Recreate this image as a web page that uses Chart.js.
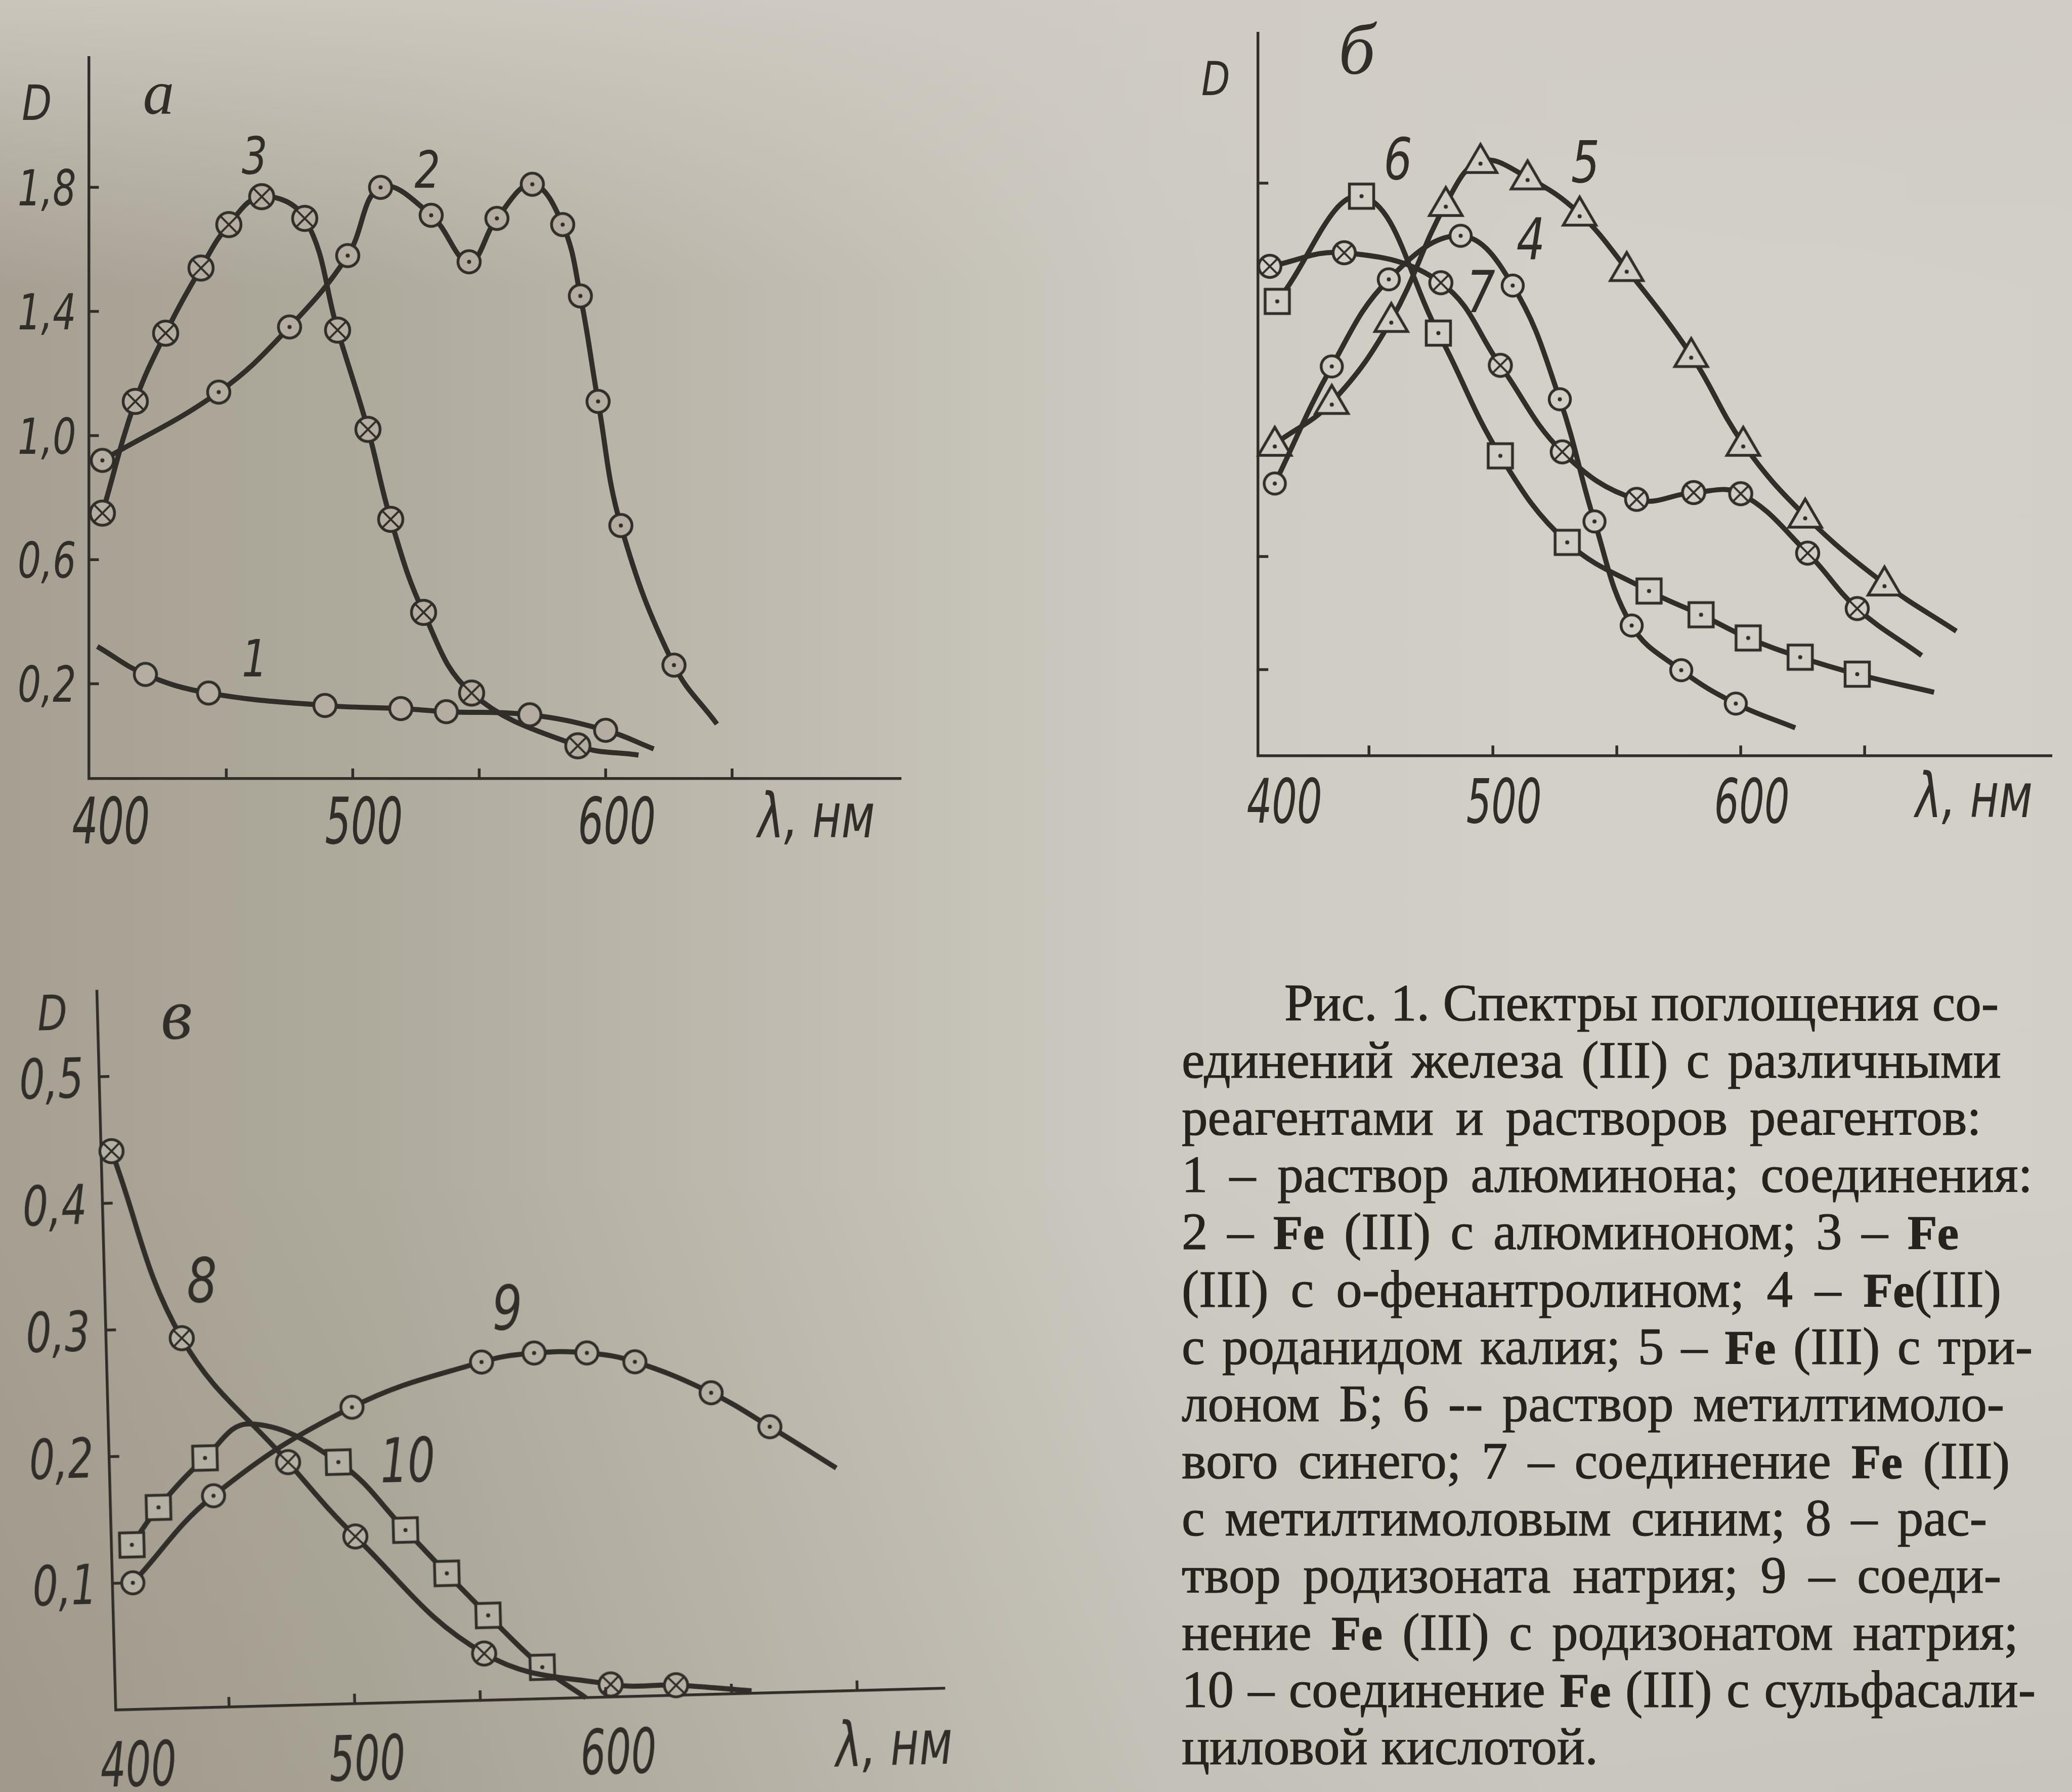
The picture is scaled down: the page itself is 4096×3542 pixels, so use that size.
<!DOCTYPE html>
<html lang="ru">
<head>
<meta charset="utf-8">
<title>Рис. 1. Спектры поглощения</title>
<script src="https://cdn.jsdelivr.net/npm/chart.js@4.4.1/dist/chart.umd.min.js"></script>
<style>
  html, body { margin: 0; width: 4096px; height: 3542px; overflow: hidden; }
  body {
    position: relative;
    background:
      linear-gradient(180deg, rgba(208,204,195,0.85) 0%, rgba(208,204,195,0) 16%),
      linear-gradient(180deg, rgba(0,0,0,0) 65%, rgba(70,62,45,0.07) 100%),
      linear-gradient(90deg, #a5a092 0%, #aeaa9c 18%, #bfbbb0 38%, #cdcac1 56%, #d3d0c8 76%, #d2cfc7 100%);
  }
  canvas { position: absolute; }
  #chartA { left: 0; top: 0; }
  #chartB { left: 2300px; top: 0; }
  #chartC { left: 0; top: 1800px; transform-origin: 228.9px 1580px; transform: rotate(-1.5deg); }
  .ln {
    position: absolute; display: flex; justify-content: space-between; column-gap: 0.22em;
    white-space: nowrap;
    font: 103px "Liberation Serif", serif; line-height: 113px; color: #26231f;
    -webkit-text-stroke: 1.2px #26231f;
  }
  .ln.last { justify-content: flex-start; column-gap: 0.26em; }
  .ln b { font-size: 0.93em; }
</style>
</head>
<body>
<canvas id="chartA" width="1900" height="1700"></canvas>
<canvas id="chartB" width="1796" height="1700"></canvas>
<canvas id="chartC" width="2000" height="1742"></canvas>
<div id="caption"></div>
<script>
// ---- данные ----
// а: 1 - алюминон, 2 - Fe(III) с алюминоном, 3 - Fe(III) с о-фенантролином
const aX1 = [399, 418, 443, 489, 519, 537, 570, 600, 619];
const aY1 = [0.32, 0.23, 0.17, 0.13, 0.12, 0.11, 0.10, 0.05, -0.01];
const aBare1 = [0, 8];
const aX2 = [401, 447, 475, 498, 511, 531, 546, 557, 571, 583, 590, 597, 606, 627, 644];
const aY2 = [0.92, 1.14, 1.35, 1.58, 1.80, 1.71, 1.56, 1.70, 1.81, 1.68, 1.45, 1.11, 0.71, 0.26, 0.07];
const aBare2 = [14];
const aX3 = [401, 414, 426, 440, 451, 464, 481, 494, 506, 515, 528, 547, 589, 613];
const aY3 = [0.75, 1.11, 1.33, 1.54, 1.68, 1.77, 1.70, 1.34, 1.02, 0.73, 0.43, 0.17, 0.00, -0.03];
const aBare3 = [13];

// б: 4 - роданид, 5 - трилон Б, 6 - метилтимоловый синий, 7 - Fe(III) с МТС
const bX4 = [412, 435, 458, 487, 508, 527, 541, 556, 576, 598, 622];
const bY4 = [0.529, 0.736, 0.890, 0.967, 0.879, 0.678, 0.462, 0.278, 0.199, 0.140, 0.097];
const bBare4 = [10];
const bX5 = [412, 435, 459, 481, 495, 514, 535, 554, 580, 601, 626, 658, 687];
const bY5 = [0.599, 0.673, 0.818, 1.023, 1.099, 1.070, 1.006, 0.908, 0.756, 0.599, 0.472, 0.352, 0.268];
const bBare5 = [12];
const bX6 = [413, 447, 478, 503, 530, 563, 584, 603, 624, 647, 678];
const bY6 = [0.851, 1.037, 0.795, 0.578, 0.425, 0.339, 0.297, 0.256, 0.222, 0.192, 0.160];
const bBare6 = [10];
const bX7 = [410, 440, 479, 503, 528, 558, 581, 600, 627, 647, 673];
const bY7 = [0.913, 0.937, 0.884, 0.738, 0.585, 0.501, 0.513, 0.511, 0.406, 0.308, 0.225];
const bBare7 = [10];

// в: 8 - родизонат, 9 - Fe(III) с родизонатом, 10 - Fe(III) с сульфосалициловой
const cX8 = [409, 435, 476, 502, 552, 602, 628, 658];
const cY8 = [0.441, 0.292, 0.192, 0.132, 0.037, 0.010, 0.008, 0.002];
const cBare8 = [7];
const cX9 = [413, 446, 502, 554, 575, 596, 615, 645, 668, 694];
const cY9 = [0.100, 0.167, 0.234, 0.267, 0.273, 0.272, 0.264, 0.238, 0.210, 0.176];
const cBare9 = [9];
const cX10 = [413, 424, 443, 461, 496, 522, 538, 554, 575, 592];
const cY10 = [0.130, 0.159, 0.197, 0.223, 0.191, 0.136, 0.101, 0.067, 0.025, 0.000];
const cBare10 = [3, 9];

// деления и подписи осей
const aXTicks = [450, 500, 550, 600, 650];
const aYTicks = [0.2, 0.6, 1.0, 1.4, 1.8];
const aYLabels = ['0,2', '0,6', '1,0', '1,4', '1,8'];
const bXTicks = [450, 500, 550, 600, 650];
const bYTicks = [0.2, 0.4, 1.06];
const cXTicks = [450, 500, 550, 600, 650, 700];
const cYTicks = [0.1, 0.2, 0.3, 0.4, 0.5];
const cYLabels = ['0,1', '0,2', '0,3', '0,4', '0,5'];
const xLabelVals = [400, 500, 600];
const xLabels = ['400', '500', '600'];

const captionLines = [
  'Рис. 1. Спектры поглощения со-',
  'единений железа (III) с различными',
  'реагентами и растворов реагентов:',
  '1 – раствор алюминона; соединения:',
  '2 – Fe (III) с алюминоном; 3 – Fe',
  '(III) с о-фенантролином; 4 – Fe(III)',
  'с роданидом калия; 5 – Fe (III) с три-',
  'лоном Б; 6 -- раствор метилтимоло-',
  'вого синего; 7 – соединение Fe (III)',
  'с метилтимоловым синим; 8 – рас-',
  'твор родизоната натрия; 9 – соеди-',
  'нение Fe (III) с родизонатом натрия;',
  '10 – соединение Fe (III) с сульфасали-',
  'циловой кислотой.'
];

const INK = '#312d29';
const SANS = '"DejaVu Sans", sans-serif';
const SERIF = '"Liberation Serif", serif';
const LINE_W = 10, AXIS_W = 5.5, TICK = 20;

// значки точек
function marker(kind, size, fill) {
  const lw = 5.5;
  const c = document.createElement('canvas');
  const s = Math.ceil(size + lw * 2 + 2);
  c.width = c.height = s;
  const g = c.getContext('2d');
  const m = s / 2, r = size / 2;
  g.lineWidth = lw;
  g.strokeStyle = INK;
  g.fillStyle = fill;
  g.beginPath();
  if (kind === 'tri') {
    g.moveTo(m, m - r * 1.0);
    g.lineTo(m + r * 0.98, m + r * 0.68);
    g.lineTo(m - r * 0.98, m + r * 0.68);
    g.closePath();
  } else if (kind === 'sq') {
    g.rect(m - r, m - r, 2 * r, 2 * r);
  } else {
    g.arc(m, m, r, 0, Math.PI * 2);
  }
  g.fill();
  g.stroke();
  if (kind === 'cross') {
    const k = r * 0.68;
    g.lineWidth = 4;
    g.beginPath();
    g.moveTo(m - k, m - k); g.lineTo(m + k, m + k);
    g.moveTo(m + k, m - k); g.lineTo(m - k, m + k);
    g.stroke();
  }
  if (kind === 'dot' || kind === 'tri' || kind === 'sq') {
    g.fillStyle = INK;
    g.beginPath();
    g.arc(m, m + (kind === 'tri' ? r * 0.15 : 0), 4, 0, Math.PI * 2);
    g.fill();
  }
  return c;
}

function series(xs, ys, bare, style, r) {
  return {
    data: xs.map((x, i) => ({ x: x, y: ys[i] })),
    borderColor: INK,
    borderWidth: LINE_W,
    tension: 0.4,
    fill: false,
    clip: false,
    pointStyle: style,
    pointRadius: xs.map((_, i) => bare.includes(i) ? 0 : r),
  };
}

function label(ctx, t, x, y, size, align, sx, face, base) {
  ctx.save();
  ctx.translate(x, y);
  ctx.scale(sx, 1);
  ctx.font = 'italic ' + size + 'px ' + face;
  ctx.textAlign = align;
  ctx.textBaseline = 'alphabetic';
  ctx.fillStyle = INK;
  ctx.fillText(t, 0, size * base);
  ctx.restore();
}

// деления внутрь, подписи и номера кривых
const inkPlugin = {
  id: 'ink',
  afterDraw(chart, args, o) {
    const { ctx, chartArea: a } = chart;
    const sx = chart.scales.x, sy = chart.scales.y;
    ctx.save();
    ctx.strokeStyle = INK;
    ctx.lineWidth = AXIS_W;
    ctx.beginPath();
    o.xTicks.forEach(v => {
      const p = sx.getPixelForValue(v);
      ctx.moveTo(p, a.bottom); ctx.lineTo(p, a.bottom - TICK);
    });
    o.yTicks.forEach(v => {
      const p = sy.getPixelForValue(v);
      ctx.moveTo(a.left, p); ctx.lineTo(a.left + TICK, p);
    });
    ctx.stroke();
    xLabels.forEach((t, i) => {
      const p = Math.max(sx.getPixelForValue(xLabelVals[i]) + 22, a.left + o.xMinOff);
      label(ctx, t, p, a.bottom + o.xGap, o.xSize, 'center', 0.64, SANS, 0.365);
    });
    (o.yLabels || []).forEach((t, i) => {
      label(ctx, t, a.left - o.yGap, sy.getPixelForValue(o.yTicks[i]), o.ySize, 'right', 0.74, SANS, 0.365);
    });
    o.notes.forEach(n => {
      label(ctx, n.t, sx.getPixelForValue(n.x), sy.getPixelForValue(n.y), n.size,
        'center', n.sx || 0.78, n.face || SANS, n.base || 0.365);
    });
    ctx.restore();
  }
};

function axis(min, max, fit) {
  return {
    type: 'linear', min: min, max: max,
    grid: { display: false },
    border: { display: true, color: INK, width: AXIS_W },
    ticks: { display: false },
    afterFit: fit,
  };
}

function makeChart(id, datasets, box, ink) {
  return new Chart(document.getElementById(id), {
    type: 'line',
    data: { datasets: datasets },
    options: {
      responsive: false,
      animation: false,
      events: [],
      layout: { padding: { top: box.top, right: box.right, left: 0, bottom: 0 } },
      scales: {
        x: axis(box.xMin, box.xMax, s => { s.height = box.xH; }),
        y: axis(box.yMin, box.yMax, s => { s.width = box.yW; }),
      },
      plugins: { legend: { display: false }, tooltip: { enabled: false }, ink: ink },
    },
    plugins: [inkPlugin],
  });
}

// а
const fillA = '#b3aea1';
makeChart('chartA', [
  series(aX1, aY1, aBare1, marker('ring', 44, fillA), 22),
  series(aX2, aY2, aBare2, marker('dot', 44, fillA), 22),
  series(aX3, aY3, aBare3, marker('cross', 48, fillA), 24),
], { top: 114, right: 118.8, xH: 160.9, yW: 175.4, xMin: 395.6, xMax: 716.8, yMin: -0.106, yMax: 2.218 }, {
  xTicks: aXTicks, yTicks: aYTicks, yLabels: aYLabels,
  xGap: 82, xSize: 126, xMinOff: 44, yGap: 25, ySize: 98,
  notes: [
    { t: 'D', x: 375.1, y: 2.074, size: 96, sx: 0.8 },
    { t: 'а', x: 423.2, y: 2.082, size: 124, sx: 1, face: SERIF, base: 0.22 },
    { t: '3', x: 461.2, y: 1.904, size: 102 },
    { t: '2', x: 529.5, y: 1.859, size: 102 },
    { t: '1', x: 461.2, y: 0.285, size: 102 },
    { t: 'λ, нм', x: 683.3, y: -0.235, size: 122, sx: 0.72, base: 0.3 },
  ],
});

// б
const fillB = '#d1cec6';
makeChart('chartB', [
  series(bX4, bY4, bBare4, marker('dot', 42, fillB), 21),
  series(bX5, bY5, bBare5, marker('tri', 66, fillB), 30),
  series(bX6, bY6, bBare6, marker('sq', 48, fillB), 24),
  series(bX7, bY7, bBare7, marker('cross', 44, fillB), 22),
], { top: 65.8, right: 0, xH: 206.5, yW: 187.2, xMin: 405.3, xMax: 725.5, yMin: 0.048, yMax: 1.325 }, {
  xTicks: bXTicks, yTicks: bYTicks,
  xGap: 88, xSize: 122, xMinOff: 52,
  notes: [
    { t: 'D', x: 388.2, y: 1.246, size: 92, sx: 0.8 },
    { t: 'б', x: 445.1, y: 1.296, size: 144, sx: 1, face: SERIF, base: 0.33 },
    { t: '6', x: 461.7, y: 1.104, size: 114 },
    { t: '5', x: 537.3, y: 1.099, size: 114 },
    { t: '4', x: 515.3, y: 0.962, size: 114 },
    { t: '7', x: 495.2, y: 0.869, size: 114 },
    { t: 'λ, нм', x: 694.1, y: -0.028, size: 122, sx: 0.72, base: 0.3 },
  ],
});

// в
const fillC = '#b4b0a3';
makeChart('chartC', [
  series(cX8, cY8, cBare8, marker('cross', 46, fillC), 23),
  series(cX9, cY9, cBare9, marker('dot', 44, fillC), 22),
  series(cX10, cY10, cBare10, marker('sq', 48, fillC), 24),
], { top: 158.4, right: 131.6, xH: 162, yW: 228.9, xMin: 404.9, xMax: 734.9, yMin: 0, yMax: 0.5676 }, {
  xTicks: cXTicks, yTicks: cYTicks, yLabels: cYLabels,
  xGap: 106, xSize: 123, xMinOff: 42, yGap: 31, ySize: 108,
  notes: [
    { t: 'D', x: 386.9, y: 0.552, size: 96, sx: 0.8 },
    { t: 'в', x: 436.2, y: 0.541, size: 144, sx: 1, face: SERIF, base: 0.22 },
    { t: '8', x: 443.6, y: 0.338, size: 122 },
    { t: '9', x: 564.8, y: 0.310, size: 122 },
    { t: '10', x: 523.6, y: 0.192, size: 122, sx: 0.7 },
    { t: 'λ, нм', x: 714.1, y: -0.045, size: 122, sx: 0.72, base: 0.3 },
  ],
});

// подпись к рисунку
const CAP_LEFT = 2336, CAP_INDENT = 2539, CAP_BASE = 2017, CAP_STEP = 113.1;
const capRight = [3951, 3956, 3917, 4018, 3872, 3956, 4018, 3962, 3973, 3928, 3956, 3990, 4024];
const cap = document.getElementById('caption');
captionLines.forEach((s, i) => {
  const d = document.createElement('div');
  const last = i === captionLines.length - 1;
  const left = i === 0 ? CAP_INDENT : CAP_LEFT;
  d.className = 'ln' + (last ? ' last' : '');
  d.style.left = left + 'px';
  d.style.top = (CAP_BASE - 91 + i * CAP_STEP) + 'px';
  if (!last) d.style.width = (capRight[i] - left) + 'px';
  d.innerHTML = s.split(' ').map(w => '<span>' + w.replace(/Fe/g, '<b>Fe</b>') + '</span>').join('');
  cap.appendChild(d);
});
</script>
</body>
</html>
